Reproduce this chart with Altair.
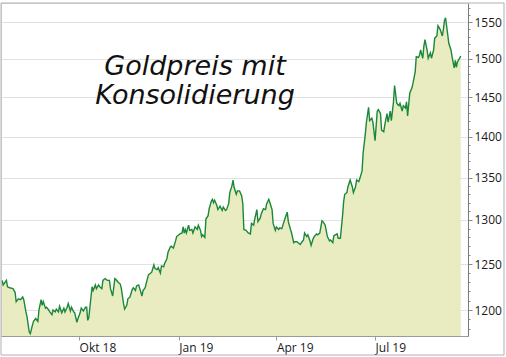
import altair as alt
import pandas as pd

dates = [
    "2018-07-22","2018-07-23","2018-07-26","2018-07-27","2018-07-29",
    "2018-08-01","2018-08-03","2018-08-04","2018-08-06","2018-08-08","2018-08-10","2018-08-11","2018-08-13","2018-08-14","2018-08-16",
    "2018-08-17","2018-08-19","2018-08-20","2018-08-22","2018-08-24","2018-08-25","2018-08-27","2018-08-28","2018-08-29","2018-08-31",
    "2018-09-01","2018-09-03","2018-09-04","2018-09-06","2018-09-07","2018-09-09","2018-09-10","2018-09-12","2018-09-13","2018-09-15",
    "2018-09-17","2018-09-18","2018-09-20","2018-09-21","2018-09-23","2018-09-24","2018-09-26","2018-09-27","2018-09-29","2018-09-30",
    "2018-10-02","2018-10-03","2018-10-05","2018-10-07","2018-10-08","2018-10-09","2018-10-10","2018-10-12","2018-10-13","2018-10-14",
    "2018-10-16","2018-10-17","2018-10-19","2018-10-20","2018-10-22","2018-10-23","2018-10-25","2018-10-27","2018-10-29","2018-10-30",
    "2018-11-01","2018-11-03","2018-11-04","2018-11-06","2018-11-08","2018-11-09","2018-11-11","2018-11-12","2018-11-14","2018-11-15",
    "2018-11-17","2018-11-19","2018-11-20","2018-11-22","2018-11-23","2018-11-25","2018-11-26","2018-11-28","2018-11-29",
    "2018-12-01","2018-12-02","2018-12-04","2018-12-05","2018-12-07","2018-12-09","2018-12-10","2018-12-12","2018-12-13","2018-12-15",
    "2018-12-16","2018-12-18","2018-12-19","2018-12-21","2018-12-22","2018-12-24","2018-12-25","2018-12-27","2018-12-29","2018-12-30",
    "2019-01-01","2019-01-02","2019-01-04","2019-01-05","2019-01-06","2019-01-07","2019-01-08","2019-01-10","2019-01-11","2019-01-13",
    "2019-01-14","2019-01-16","2019-01-18","2019-01-19","2019-01-21","2019-01-22","2019-01-23","2019-01-25","2019-01-26","2019-01-28",
    "2019-01-29","2019-01-31",
    "2019-02-01","2019-02-02","2019-02-03","2019-02-05","2019-02-06","2019-02-08","2019-02-10","2019-02-11","2019-02-13","2019-02-14",
    "2019-02-16","2019-02-17","2019-02-19","2019-02-20","2019-02-21","2019-02-23","2019-02-24","2019-02-26","2019-02-28",
    "2019-03-01","2019-03-02","2019-03-04","2019-03-06","2019-03-08","2019-03-09","2019-03-11","2019-03-12","2019-03-14","2019-03-15",
    "2019-03-17","2019-03-18","2019-03-20","2019-03-22","2019-03-23","2019-03-25","2019-03-26","2019-03-28","2019-03-29","2019-03-31",
    "2019-04-01","2019-04-03","2019-04-04","2019-04-06","2019-04-07","2019-04-09","2019-04-11","2019-04-12","2019-04-14","2019-04-15",
    "2019-04-17","2019-04-18","2019-04-20","2019-04-21","2019-04-23","2019-04-24","2019-04-26","2019-04-27","2019-04-29","2019-04-30",
    "2019-05-02","2019-05-03","2019-05-05","2019-05-06","2019-05-08","2019-05-09","2019-05-11","2019-05-13","2019-05-14","2019-05-16",
    "2019-05-18","2019-05-20","2019-05-21","2019-05-23","2019-05-24","2019-05-27","2019-05-28","2019-05-30",
    "2019-06-01","2019-06-02","2019-06-03","2019-06-05","2019-06-06","2019-06-08","2019-06-10","2019-06-11","2019-06-13","2019-06-14",
    "2019-06-16","2019-06-17","2019-06-19","2019-06-20","2019-06-22","2019-06-23","2019-06-25","2019-06-26","2019-06-28","2019-06-29",
    "2019-07-01","2019-07-03","2019-07-04","2019-07-06","2019-07-07","2019-07-09","2019-07-10","2019-07-12","2019-07-13","2019-07-15",
    "2019-07-16","2019-07-18","2019-07-19","2019-07-21","2019-07-23","2019-07-24","2019-07-26","2019-07-27","2019-07-29","2019-07-30",
    "2019-07-31",
    "2019-08-02","2019-08-04","2019-08-05","2019-08-07","2019-08-08","2019-08-10","2019-08-11","2019-08-12","2019-08-14","2019-08-15",
    "2019-08-16","2019-08-18","2019-08-19","2019-08-21","2019-08-22","2019-08-24","2019-08-25","2019-08-27","2019-08-28","2019-08-30",
    "2019-09-01","2019-09-02","2019-09-03","2019-09-04","2019-09-06","2019-09-07","2019-09-09","2019-09-10","2019-09-12","2019-09-13",
    "2019-09-14","2019-09-15","2019-09-17","2019-09-18",
]

prices = [
    1232,1227,1232,1225,1224,
    1223,1219,1209,1212,1211,1214,1211,1198,1193,1177,
    1175,1184,1188,1191,1188,1200,1211,1205,1209,1202,
    1203,1200,1198,1195,1200,1198,1201,1198,1204,1197,
    1202,1198,1203,1207,1199,1203,1198,1197,1187,1191,
    1197,1202,1199,1203,1203,1189,1192,1214,1225,1221,
    1227,1223,1227,1225,1223,1232,1234,1232,1232,1223,
    1215,1234,1233,1230,1228,1223,1207,1201,1205,1212,
    1214,1222,1224,1221,1226,1227,1223,1215,1221,
    1224,1229,1238,1239,1241,1249,1245,1244,1246,1240,
    1248,1247,1251,1256,1263,1269,1270,1268,1276,1281,
    1283,1284,1285,1292,1285,1289,1285,1294,1288,1289,
    1285,1292,1289,1294,1288,1281,1283,1280,1301,1305,
    1313,1322,
    1324,1320,1323,1317,1312,1316,1311,1315,1311,1312,
    1319,1332,1340,1347,1338,1330,1334,1334,1328,
    1319,1289,1288,1285,1284,1296,1294,1301,1312,1298,
    1302,1307,1313,1312,1319,1324,1320,1312,1296,1288,
    1292,1289,1291,1290,1294,1302,1309,1298,1289,1285,
    1274,1275,1275,1274,1272,1274,1277,1285,1281,1283,
    1276,1271,1279,1281,1284,1283,1285,1299,1298,1294,
    1281,1276,1277,1274,1282,1284,1279,1279,
    1305,1321,1330,1332,1339,1347,1339,1332,1339,1347,
    1345,1349,1358,1380,1403,1418,1437,1420,1423,1418,
    1395,1432,1434,1429,1408,1406,1415,1429,1418,1432,
    1420,1444,1465,1442,1439,1442,1432,1439,1436,1444,
    1426,
    1455,1462,1468,1483,1503,1502,1505,1512,1501,1517,
    1526,1512,1501,1508,1501,1512,1528,1531,1545,1540,
    1531,1540,1552,1556,1533,1521,1512,1503,1488,1498,
    1489,1496,1501,1504,
]

y_major = [1200, 1250, 1300, 1350, 1400, 1450, 1500, 1550]
y_minor = list(range(1180, 1580, 10))
y_domain = [1172.6, 1576.5]

x_tick_dates = [(2018, 10, 1), (2019, 1, 1), (2019, 4, 1), (2019, 7, 1)]
x_tick_labels = ["Okt 18", "Jan 19", "Apr 19", "Jul 19"]

title_line1 = "Goldpreis mit"
title_line2 = "Konsolidierung"

df = pd.DataFrame({"date": dates, "price": prices})

W, H = 467, 333
FONT = "Open Sans"
TITLE_FONT = "DejaVu Sans"

label_expr = "''"
for (yy, mm, dd), lab in reversed(list(zip(x_tick_dates, x_tick_labels))):
    key = f"{yy:04d}-{mm:02d}-{dd:02d}"
    label_expr = f"timeFormat(datum.value, '%Y-%m-%d') == '{key}' ? '{lab}' : ({label_expr})"

major_test = "datum.value % 50 == 0"

x_enc = alt.X(
    "date:T",
    scale=alt.Scale(domain=[alt.DateTime(year=2018, month=7, date=21),
                            alt.DateTime(year=2019, month=9, date=24, hours=17)]),
    axis=alt.Axis(
        values=[alt.DateTime(year=a, month=b, date=c) for a, b, c in x_tick_dates],
        labelExpr=label_expr, labelAlign="left", labelPadding=2, tickSize=4,
        grid=False, title=None, domainColor="#9a9a9a", tickColor="#9a9a9a",
        labelColor="#1a1a1a", labelFont=FONT, labelFontSize=12,
    ),
)

y_enc = alt.Y(
    "price:Q",
    scale=alt.Scale(type="log", domain=y_domain, nice=False, zero=False),
    axis=alt.Axis(
        orient="right", values=y_minor, format="d",
        labelExpr=f"{major_test} ? datum.label : ''",
        tickSize={"condition": {"test": major_test, "value": 4}, "value": 2},
        gridOpacity={"condition": {"test": major_test, "value": 1}, "value": 0},
        gridColor="#e2e2e2", grid=True, title=None, labelPadding=2,
        domainColor="#7a7a7a", tickColor="#8a8a8a",
        labelColor="#1a1a1a", labelFont=FONT, labelFontSize=12,
    ),
)

area = alt.Chart(df).mark_area(
    color="#e8ecc0", opacity=1,
    line={"color": "#1b873a", "strokeWidth": 1.4},
).encode(x=x_enc, y=y_enc, y2=alt.datum(y_domain[0]))

one = alt.Data(values=[{"k": 1}])

def title_text(txt, ypix):
    return alt.Chart(one).mark_text(
        text=txt, font=TITLE_FONT, fontStyle="italic", fontWeight="normal",
        fontSize=27, align="center", baseline="alphabetic", color="#111111",
    ).encode(x=alt.value(194), y=alt.value(ypix))

t1 = title_text(title_line1, 72)
t2 = title_text(title_line2, 101)

frame = alt.Chart(one).mark_rect(
    fillOpacity=0, stroke="#b0b0b0", strokeWidth=1,
).encode(x=alt.value(0), x2=alt.value(503), y=alt.value(0), y2=alt.value(352))

chart = alt.layer(area, t1, t2, frame).properties(
    width=W, height=H,
    autosize=alt.AutoSizeParams(type="none"),
    padding={"left": 1, "top": 3, "right": 38, "bottom": 21},
).configure_view(stroke=None).configure(background="white")

chart.save("out.html", embed_options={"renderer": "svg", "actions": False})
